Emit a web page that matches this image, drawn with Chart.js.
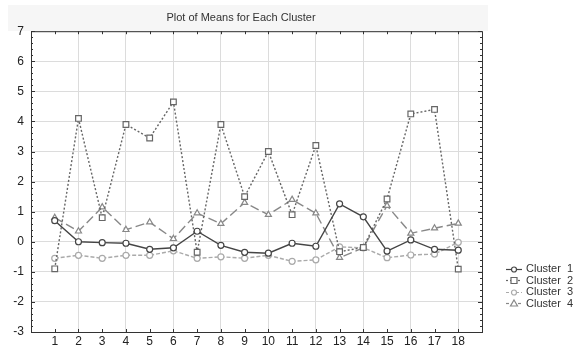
<!DOCTYPE html>
<html>
<head>
<meta charset="utf-8">
<script src="https://cdn.jsdelivr.net/npm/chart.js@4/dist/chart.umd.min.js"></script>
<style>
  html, body { margin: 0; padding: 0; background: #fff; }
  #wrap { position: relative; width: 575px; height: 347px; overflow: hidden; }
  #legend { position: absolute; left: 505px; top: 263px; font: 11px "Liberation Sans", Arial, sans-serif; color: #333; }
  #legend div { height: 11.5px; line-height: 11.5px; white-space: pre; }
  #legend canvas { vertical-align: middle; margin-right: 3px; }
</style>
</head>
<body>
<div id="wrap">
  <canvas id="myChart" width="575" height="347"></canvas>
  <div id="legend"></div>
</div>
<script>
const categories = [1, 2, 3, 4, 5, 6, 7, 8, 9, 10, 11, 12, 13, 14, 15, 16, 17, 18];
const cluster1 = [0.7, 0.0, -0.03, -0.05, -0.25, -0.2, 0.35, -0.12, -0.35, -0.38, -0.05, -0.15, 1.26, 0.83, -0.31, 0.06, -0.25, -0.28];
const cluster2 = [-0.9, 4.1, 0.8, 3.9, 3.45, 4.65, -0.35, 3.9, 1.5, 3.0, 0.9, 3.2, -0.33, -0.19, 1.42, 4.25, 4.4, -0.91];
const cluster3 = [-0.55, -0.45, -0.55, -0.45, -0.45, -0.3, -0.55, -0.5, -0.55, -0.45, -0.65, -0.6, -0.17, -0.2, -0.53, -0.44, -0.41, -0.02];
const cluster4 = [0.8, 0.35, 1.15, 0.4, 0.65, 0.1, 0.95, 0.6, 1.3, 0.9, 1.4, 0.95, -0.53, -0.2, 1.2, 0.28, 0.45, 0.61];
const seriesNames = ['Cluster  1', 'Cluster  2', 'Cluster  3', 'Cluster  4'];

const toPoints = (vals) => categories.map((c, i) => ({ x: c, y: vals[i] }));

const styles = [
    { color: '#454545', dash: [], point: 'circle', r: 3 },
    { color: '#666666', dash: [2, 2], point: 'rect', r: 4 },
    { color: '#aaaaaa', dash: [4, 2], point: 'circle', r: 3 },
    { color: '#888888', dash: [9, 4], point: 'triangle', r: 3.5 }
];

const makeDataset = (name, vals, s) => ({
    label: name,
    data: toPoints(vals),
    borderColor: s.color,
    borderWidth: 1.4,
    borderDash: s.dash,
    pointStyle: s.point,
    pointRadius: s.r,
    pointBorderColor: s.color,
    pointBackgroundColor: '#fff',
    pointBorderWidth: 1.2,
    tension: 0,
    fill: false
});

// frame, minor ticks and the grey band behind the title
const frame = {
    id: 'frame',
    beforeDraw(chart) {
        const c = chart.ctx;
        c.save();
        c.fillStyle = '#f6f6f6';
        c.fillRect(8, 5, 480, 26);
        c.restore();
    },
    afterDraw(chart) {
        const c = chart.ctx, a = chart.chartArea;
        const xs = chart.scales.x, ys = chart.scales.y;
        c.save();
        c.strokeStyle = '#333';
        c.lineWidth = 1;
        c.strokeRect(a.left + 0.5, a.top + 0.5, a.right - a.left, a.bottom - a.top);
        c.beginPath();
        for (let v = -3; v <= 7.001; v += 0.2) {
            const y = Math.round(ys.getPixelForValue(v)) + 0.5;
            const len = Math.abs(v - Math.round(v)) < 0.01 ? 4 : 2;
            c.moveTo(a.left, y); c.lineTo(a.left + len, y);
            c.moveTo(a.right, y); c.lineTo(a.right - len, y);
        }
        for (let v = 1; v <= 18; v++) {
            const x = Math.round(xs.getPixelForValue(v)) + 0.5;
            c.moveTo(x, a.top); c.lineTo(x, a.top + 3);
            c.moveTo(x, a.bottom); c.lineTo(x, a.bottom - 3);
        }
        c.stroke();
        c.restore();
    }
};

const ctx = document.getElementById('myChart').getContext('2d');
const myChart = new Chart(ctx, {
    type: 'line',
    data: {
        datasets: [
            makeDataset(seriesNames[0], cluster1, styles[0]),
            makeDataset(seriesNames[1], cluster2, styles[1]),
            makeDataset(seriesNames[2], cluster3, styles[2]),
            makeDataset(seriesNames[3], cluster4, styles[3])
        ]
    },
    options: {
        responsive: false,
        animation: false,
        layout: { padding: { left: 0, right: 93, top: 0, bottom: 0 } },
        plugins: {
            legend: { display: false },
            tooltip: { enabled: false },
            title: {
                display: true,
                text: 'Plot of Means for Each Cluster',
                color: '#333',
                font: { family: 'Liberation Sans', size: 11, weight: 'normal' },
                padding: { top: 11, bottom: 7 }
            }
        },
        scales: {
            x: {
                type: 'linear',
                min: 0,
                max: 19,
                afterFit: (s) => { s.height = 15; },
                grid: {
                    drawTicks: false,
                    color: (c) => (c.tick && c.tick.value % 2 === 0 && c.tick.value > 0 && c.tick.value < 19) ? '#dcdcdc' : 'rgba(0,0,0,0)'
                },
                border: { display: false },
                ticks: {
                    stepSize: 1,
                    autoSkip: false,
                    maxRotation: 0,
                    padding: 2,
                    color: '#222',
                    font: { family: 'Liberation Sans', size: 12 },
                    callback: (v) => (v >= 1 && v <= 18) ? v : ''
                }
            },
            y: {
                min: -3,
                max: 7,
                afterFit: (s) => { s.width = 31; },
                grid: { drawTicks: false, color: '#dcdcdc' },
                border: { display: false },
                ticks: {
                    stepSize: 1,
                    padding: 7,
                    color: '#222',
                    font: { family: 'Liberation Sans', size: 12 }
                }
            }
        }
    },
    plugins: [frame]
});

// legend: small line + marker icons next to real text
const legend = document.getElementById('legend');
seriesNames.forEach((name, i) => {
    const s = styles[i];
    const row = document.createElement('div');
    const ic = document.createElement('canvas');
    ic.width = 18; ic.height = 11;
    const g = ic.getContext('2d');
    g.strokeStyle = s.color;
    g.lineWidth = 1.2;
    g.setLineDash(s.dash.map(d => Math.min(d, 3)));
    g.beginPath(); g.moveTo(1, 5.5); g.lineTo(17, 5.5); g.stroke();
    g.setLineDash([]);
    g.fillStyle = '#fff';
    g.beginPath();
    if (s.point === 'circle') g.arc(9, 5.5, 2.5, 0, Math.PI * 2);
    else if (s.point === 'rect') g.rect(6, 2.5, 6, 6);
    else { g.moveTo(9, 2); g.lineTo(12.5, 8); g.lineTo(5.5, 8); g.closePath(); }
    g.fill(); g.stroke();
    row.appendChild(ic);
    row.appendChild(document.createTextNode(name));
    legend.appendChild(row);
});
</script>
</body>
</html>
